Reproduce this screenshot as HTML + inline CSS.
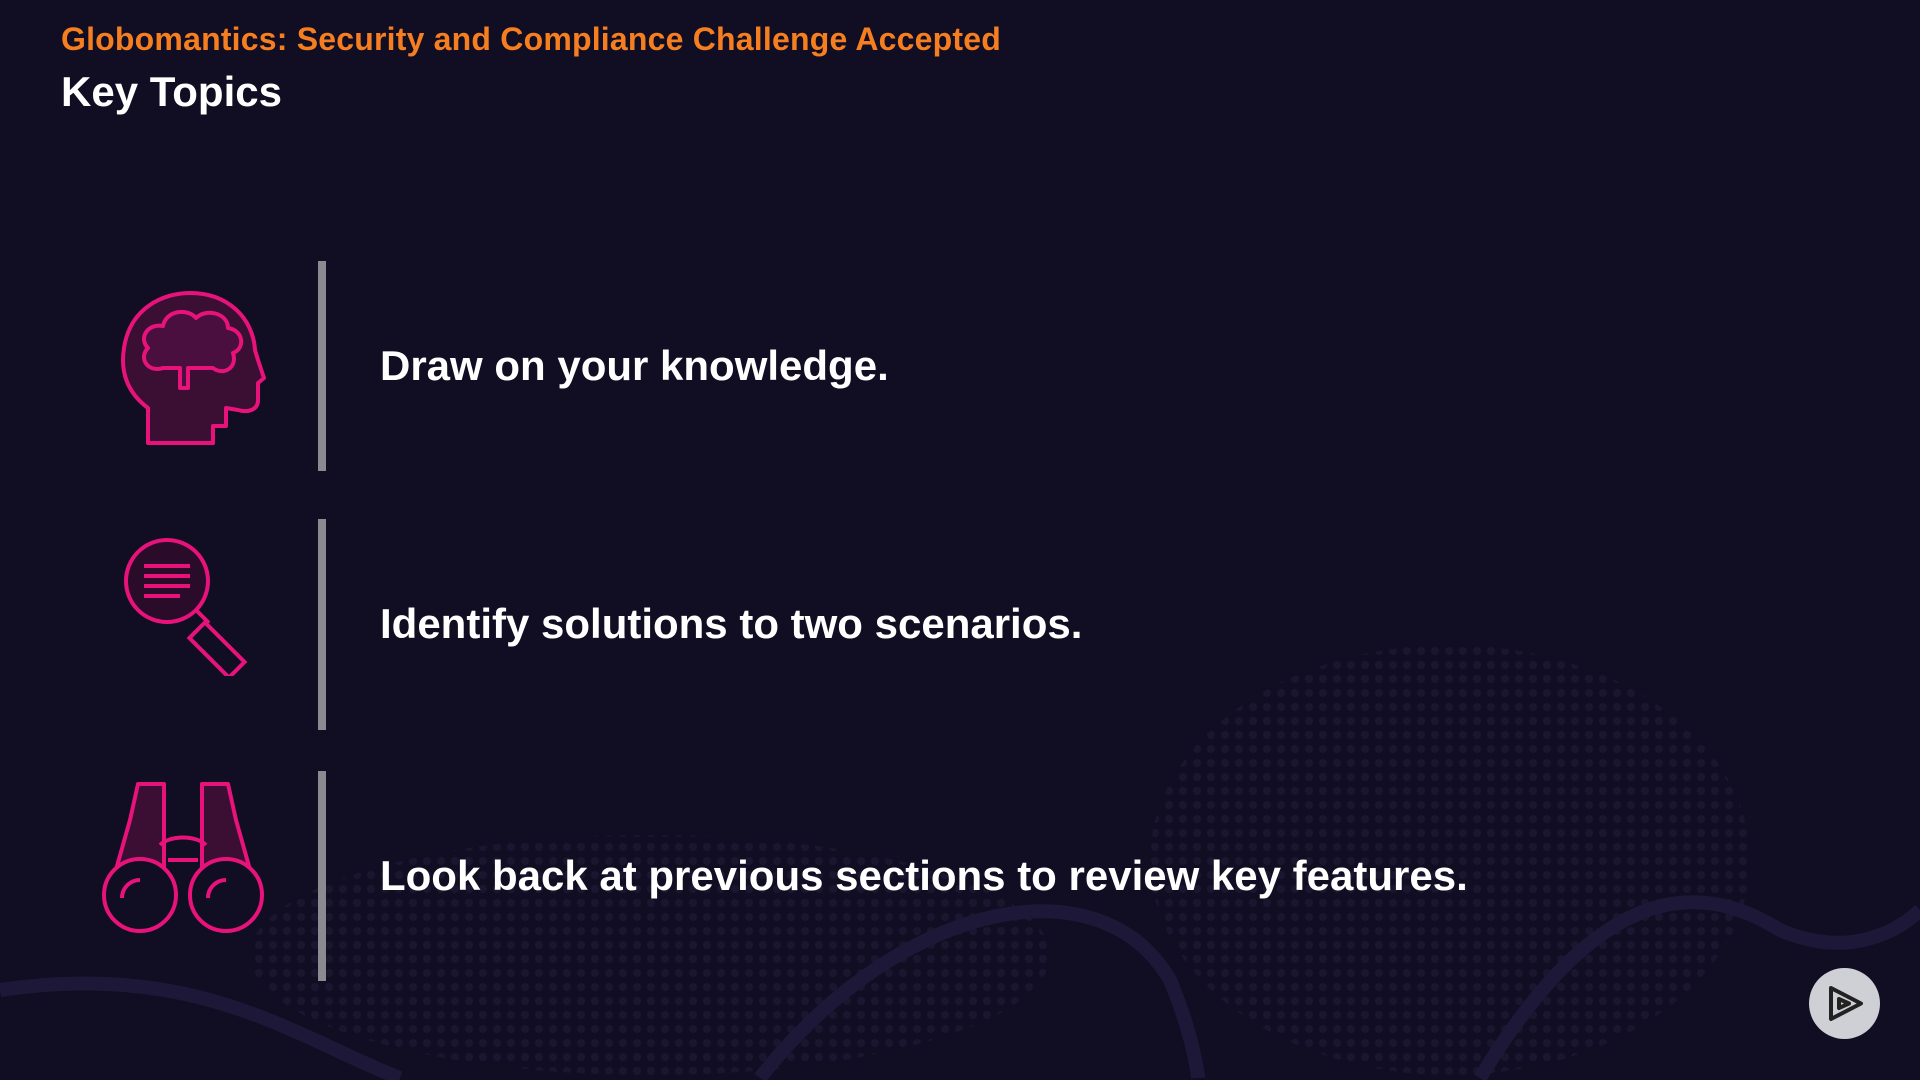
<!DOCTYPE html>
<html><head><meta charset="utf-8">
<style>
html,body{margin:0;padding:0;width:1920px;height:1080px;overflow:hidden}
body{background:#110d22;position:relative;font-family:"Liberation Sans",sans-serif}
.sub{position:absolute;left:61px;top:21px;color:#f57f20;font-size:32px;font-weight:bold;letter-spacing:0.2px}
.title{position:absolute;left:61px;top:68px;color:#fff;font-size:42px;font-weight:bold}
.bar{position:absolute;left:318px;width:8px;background:#8a8a90}
.txt{position:absolute;left:380px;color:#fff;font-size:42px;font-weight:bold;line-height:50px;white-space:nowrap}
.icon{position:absolute}
</style></head><body>
<svg style="position:absolute;left:0;top:0;overflow:hidden" width="1920" height="1080">
<defs><pattern id="dots" width="14" height="14" patternUnits="userSpaceOnUse"><circle cx="7" cy="7" r="4" fill="#1a1630"/></pattern></defs>
<ellipse cx="1450" cy="860" rx="300" ry="215" fill="url(#dots)"/>
<ellipse cx="650" cy="955" rx="400" ry="120" fill="url(#dots)"/>
<path d="M0 990 C200 960 300 1040 400 1078" stroke="#1d1838" stroke-width="14" fill="none"/>
<path d="M760 1078 C900 900 1100 860 1170 980 C1195 1040 1198 1078 1198 1078" stroke="#1d1838" stroke-width="14" fill="none"/>
<path d="M1480 1078 C1600 880 1700 880 1780 930 C1850 960 1900 930 1920 910" stroke="#1d1838" stroke-width="14" fill="none"/>
</svg>
<div class="sub">Globomantics: Security and Compliance Challenge Accepted</div>
<div class="title">Key Topics</div>

<div class="bar" style="top:261px;height:210px"></div>
<div class="bar" style="top:519px;height:211px"></div>
<div class="bar" style="top:771px;height:210px"></div>

<div class="txt" style="top:341px">Draw on your knowledge.</div>
<div class="txt" style="top:599px">Identify solutions to two scenarios.</div>
<div class="txt" style="top:851px">Look back at previous sections to review key features.</div>

<svg class="icon" style="left:118px;top:288px" width="148" height="160" viewBox="0 0 148 160">
<path d="M30 155 V120 C10 105 2 85 6 60 C12 20 45 5 72 5 C110 5 135 30 137 62 L140 72 L146 90 L140 95 V112 C140 122 130 125 120 122 L108 120 V138 H95 V155 Z" fill="#3a0f33" stroke="#e8137a" stroke-width="4" stroke-linejoin="round"/>
<path d="M30 60 C20 50 30 35 45 38 C48 22 70 20 78 30 C88 20 110 25 110 40 C125 42 128 60 115 65 C120 80 105 88 95 80 H70 V100 H62 V80 H45 C30 85 20 70 30 60Z" fill="#4a0f3e" stroke="#e8137a" stroke-width="4" stroke-linejoin="round"/>
</svg>
<svg class="icon" style="left:122px;top:536px" width="140" height="140" viewBox="0 0 140 140">
<circle cx="45" cy="45" r="41" fill="#2a0c2a" stroke="#e8137a" stroke-width="4"/>
<g stroke="#e8137a" stroke-width="4"><line x1="22" y1="30" x2="68" y2="30"/><line x1="22" y1="40" x2="68" y2="40"/><line x1="22" y1="50" x2="68" y2="50"/><line x1="22" y1="60" x2="58" y2="60"/></g>
<line x1="75" y1="75" x2="87" y2="87" stroke="#e8137a" stroke-width="4"/>
<rect x="84" y="86" width="22" height="56" transform="rotate(-45 95 114)" fill="none" stroke="#e8137a" stroke-width="4"/>
</svg>
<svg class="icon" style="left:100px;top:780px" width="166" height="156" viewBox="0 0 166 156">
<path d="M8 118 L30 40 L38 4 H64 V115" fill="#3a0f33" stroke="#e8137a" stroke-width="4" stroke-linejoin="round"/>
<path d="M158 118 L136 40 L128 4 H102 V115" fill="#3a0f33" stroke="#e8137a" stroke-width="4" stroke-linejoin="round"/>
<path d="M60 65 C70 55 96 55 106 65 M68 80 H98" stroke="#e8137a" stroke-width="4" fill="none"/>
<circle cx="40" cy="115" r="36" fill="#110d22" stroke="#e8137a" stroke-width="4"/>
<circle cx="126" cy="115" r="36" fill="#110d22" stroke="#e8137a" stroke-width="4"/>
<path d="M22 118 A18 18 0 0 1 40 100 M108 118 A18 18 0 0 1 126 100" stroke="#e8137a" stroke-width="4" fill="none"/>
</svg>

<div style="position:absolute;left:1809px;top:968px;width:71px;height:71px;border-radius:50%;background:#cfcfd6">
<svg width="71" height="71" viewBox="0 0 71 71"><path d="M22 20 L52 35.5 L22 51 Z M30 31 L40 35.5 L30 40 Z" fill="none" stroke="#222" stroke-width="4" stroke-linejoin="round"/></svg>
</div>
</body></html>
